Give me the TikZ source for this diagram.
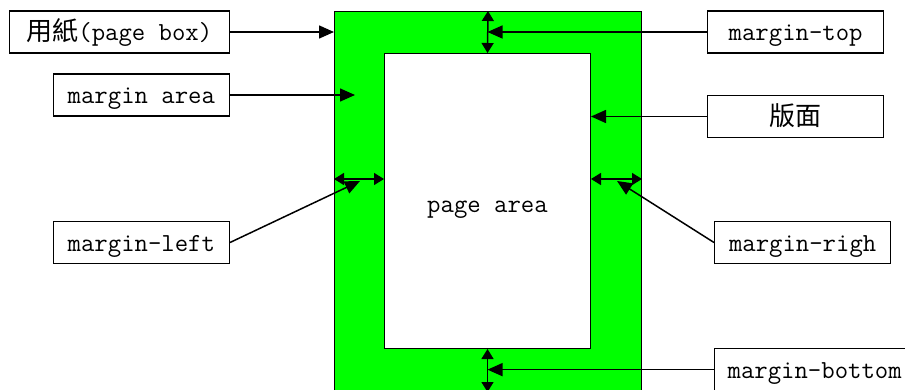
\documentclass[tikz,border=0pt]{standalone}
\usepackage{fontspec}
\newfontfamily\cjk{Noto Sans CJK SC}
\usetikzlibrary{arrows.meta,positioning}
\definecolor{sheetgreen}{RGB}{0,255,0}
\tikzset{
    labelbox/.style={draw, line width=1.3pt, fill=white, minimum width=176pt,
        minimum height=42pt, inner xsep=13pt, inner ysep=0pt,
        text height=18pt, text depth=0pt,
        font=\fontsize{26}{26}\selectfont\ttfamily},
    pointer/.style={line width=1.5pt, -{Triangle[length=15pt,width=13pt]}},
    measure/.style={line width=1.5pt,
        {Triangle[length=10pt,width=12pt]}-{Triangle[length=10pt,width=12pt]}}
}

\begin{document}
\begin{tikzpicture}[x=1pt,y=-1pt]
    \useasboundingbox (0,0) rectangle (905,390);
    \clip (0,0) rectangle (905,390);
    % sheet with the text block on it
    \node[draw, line width=1pt, fill=sheetgreen, inner sep=0pt, anchor=north west,
        minimum width=307pt, minimum height=380pt] (sheet) at (334,11) {};
    \node[draw, line width=1pt, fill=white, inner sep=0pt, anchor=north west,
        minimum width=206pt, minimum height=295pt, text height=23pt, text depth=0pt,
        font=\fontsize{26}{26}\selectfont\ttfamily] (block) at (384,53) {page area};
    % labels
    \node[labelbox, anchor=east, minimum width=220pt] (pagebox) at (230,32) {{\cjk 用紙}(page box)};
    \node[labelbox, anchor=east] (marea) at (230,95) {margin area};
    \node[labelbox, anchor=east] (mleft) at (230,242.5) {margin-left};
    \node[labelbox, anchor=west] (mtop) at (707,32) {margin-top};
    \node[labelbox, anchor=west] (banmian) at (707,116.5) {{\cjk 版面}};
    \node[labelbox, anchor=west] (mright) at (714,242.5) {margin-righ};
    \node[labelbox, anchor=north west] (mbottom) at (714,348) {margin-bottom};
    % margin widths
    \draw[measure] (sheet.north) -- (block.north);
    \draw[measure] (block.south) -- (block.south |- sheet.south);
    \draw[measure] (sheet.west |- 0,179) -- (block.west |- 0,179);
    \draw[measure] (block.east |- 0,179) -- (sheet.east |- 0,179);
    % pointers
    \coordinate (areapt) at (355,95);
    \coordinate (leftpt) at (360,181);
    \coordinate (rightpt) at (617,181);
    \draw[pointer] (pagebox) -- (pagebox -| sheet.west);
    \draw[pointer] (marea) -- (areapt);
    \draw[pointer] (mtop) -- (mtop -| block.north);
    \draw[pointer] (banmian) -- (banmian -| block.east);
    \draw[pointer] (mleft.east) -- (leftpt);
    \draw[pointer] (mright.west) -- (rightpt);
    \draw[pointer] (mbottom) -- (mbottom -| block.south);
\end{tikzpicture}
\end{document}
